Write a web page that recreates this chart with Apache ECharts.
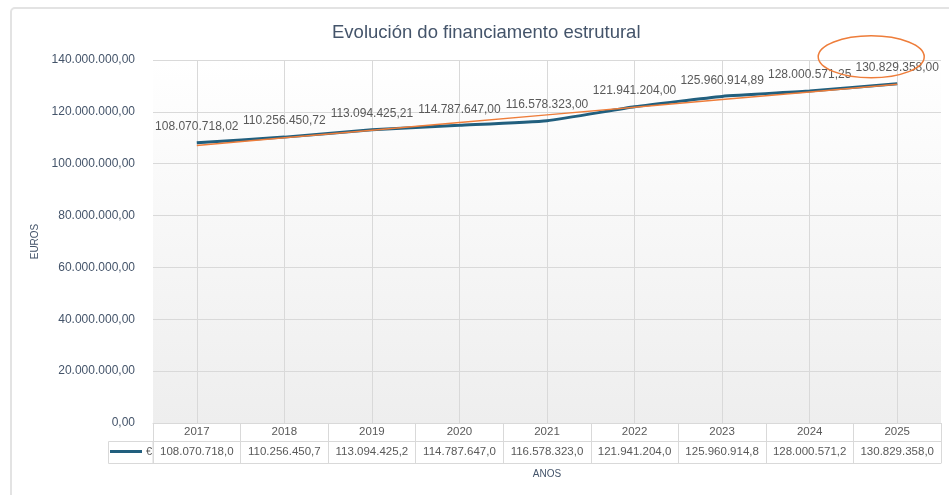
<!DOCTYPE html>
<html>
<head>
<meta charset="utf-8">
<script src="https://cdn.jsdelivr.net/npm/echarts@6/dist/echarts.min.js"></script>
<style>
  html, body { margin: 0; padding: 0; background: #ffffff; }
  #chart { width: 949px; height: 495px; }
</style>
</head>
<body>
<div id="chart"></div>
<script>
// Structural funding per year (euros)
const years = ['2017', '2018', '2019', '2020', '2021', '2022', '2023', '2024', '2025'];
const funding = [108070718.02, 110256450.72, 113094425.21, 114787647.00, 116578323.00,
                 121941204.00, 125960914.89, 128000571.25, 130829358.00];
const seriesName = '€';
const chartTitle = 'Evolución do financiamento estrutural';
const yAxisTitle = 'EUROS';
const xAxisTitle = 'ANOS';
const yMax = 140000000;
const yStep = 20000000;

// Number formatting: '.' for thousands, ',' for decimals; table cells keep one decimal (truncated)
function euro(v, decimals) {
  const parts = Number(v).toFixed(2).split('.');
  const intPart = parts[0].replace(/\B(?=(\d{3})+(?!\d))/g, '.');
  return intPart + ',' + parts[1].slice(0, decimals);
}
const tableCells = funding.map(v => euro(v, 1));

// Linear trendline (least squares over the yearly values)
const n = funding.length;
const meanX = (n - 1) / 2;
const meanY = funding.reduce((a, b) => a + b, 0) / n;
let sxy = 0, sxx = 0;
funding.forEach((v, i) => { sxy += (i - meanX) * (v - meanY); sxx += (i - meanX) * (i - meanX); });
const slope = sxy / sxx;
const trend = funding.map((_, i) => meanY + slope * (i - meanX));

const grey = '#d9d9d9';
const textDark = '#44546a';
const textGrey = '#595959';
const font = '"Liberation Sans", Arial, sans-serif';

const chart = echarts.init(document.getElementById('chart'));

chart.setOption({
  animation: false,
  textStyle: { fontFamily: font },
  title: {
    text: chartTitle,
    left: 327,
    top: 18,
    textStyle: { color: textDark, fontSize: 18.5, fontWeight: 'normal', fontFamily: font }
  },
  legend: {
    data: [seriesName],
    left: 110,
    top: 446,
    padding: 0,
    icon: 'rect',
    itemWidth: 32,
    itemHeight: 3,
    itemGap: 0,
    textStyle: { color: textGrey, fontSize: 11, padding: [0, 0, 0, -1] }
  },
  grid: {
    left: 153,
    right: 8,
    top: 60,
    bottom: 72,
    show: true,
    borderWidth: 0,
    backgroundColor: new echarts.graphic.LinearGradient(0, 0, 0, 1, [
      { offset: 0, color: '#ffffff' },
      { offset: 1, color: '#eeeeee' }
    ])
  },
  xAxis: [
    {
      type: 'category',
      data: years,
      boundaryGap: true,
      name: xAxisTitle,
      nameLocation: 'middle',
      nameGap: 46,
      nameTextStyle: { color: textDark, fontSize: 10 },
      axisLine: { show: true, lineStyle: { color: grey, width: 1 } },
      axisTick: { show: true, length: 40, lineStyle: { color: grey, width: 1 } },
      splitLine: { show: true, alignWithLabel: true, lineStyle: { color: grey, width: 1 } },
      axisLabel: {
        interval: 0,
        margin: 0,
        formatter: (v, i) => '{y|' + v + '}\n{v|' + tableCells[i] + '}',
        rich: {
          y: { lineHeight: 18, fontSize: 11.5, color: textGrey, align: 'center' },
          v: { lineHeight: 22, fontSize: 11.5, color: textGrey, align: 'center' }
        }
      }
    },
    {
      type: 'category',
      data: years,
      position: 'bottom',
      offset: 18,
      axisLine: { show: true, lineStyle: { color: grey, width: 1 } },
      axisTick: { show: false },
      axisLabel: { show: false },
      splitLine: { show: false }
    },
    {
      type: 'category',
      data: years,
      position: 'bottom',
      offset: 40,
      axisLine: { show: true, lineStyle: { color: grey, width: 1 } },
      axisTick: { show: false },
      axisLabel: { show: false },
      splitLine: { show: false }
    }
  ],
  yAxis: {
    type: 'value',
    min: 0,
    max: yMax,
    interval: yStep,
    name: yAxisTitle,
    nameLocation: 'middle',
    nameGap: 111,
    nameTextStyle: { color: textDark, fontSize: 10 },
    axisLine: { show: false },
    axisTick: { show: false },
    splitLine: { lineStyle: { color: grey, width: 1 } },
    axisLabel: { color: textDark, fontSize: 12, margin: 18, formatter: v => euro(v, 2) }
  },
  series: [
    {
      name: seriesName,
      type: 'line',
      data: funding,
      smooth: 0.15,
      symbol: 'circle',
      symbolSize: 0,
      lineStyle: { color: '#215f7e', width: 3 },
      itemStyle: { color: '#215f7e' },
      label: {
        show: true,
        position: 'top',
        distance: 10,
        color: textGrey,
        fontSize: 12,
        formatter: p => euro(p.value, 2)
      },
      z: 3
    },
    {
      name: 'Linear (' + seriesName + ')',
      type: 'line',
      data: trend,
      symbol: 'none',
      silent: true,
      lineStyle: { color: '#ee7d3a', width: 1.5 },
      itemStyle: { color: '#ee7d3a' },
      z: 4
    }
  ]
});

// Highlight ring around the latest year's value, plus frame and legend cell
const last = chart.convertToPixel({ seriesIndex: 0 }, [n - 1, funding[n - 1]]);
chart.setOption({
  graphic: [
    {
      type: 'rect',
      silent: true,
      z: -1,
      shape: { x: 11, y: 8, width: 980, height: 520, r: 4 },
      style: { fill: 'none', stroke: '#e3e3e3', lineWidth: 2 }
    },
    {
      type: 'rect',
      silent: true,
      shape: { x: 108.5, y: 441.5, width: 44.5, height: 22 },
      style: { fill: 'none', stroke: grey, lineWidth: 1 }
    },
    {
      type: 'ellipse',
      silent: true,
      z: 10,
      shape: { cx: last[0] - 26, cy: last[1] - 27, rx: 53, ry: 21 },
      style: { fill: 'none', stroke: '#ee7d3a', lineWidth: 1.5 }
    }
  ]
});
</script>
</body>
</html>
